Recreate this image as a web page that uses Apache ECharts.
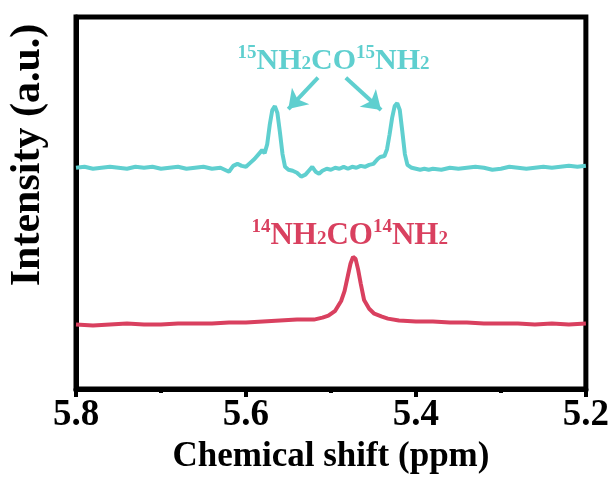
<!DOCTYPE html>
<html>
<head>
<meta charset="utf-8">
<script src="https://cdn.jsdelivr.net/npm/echarts@6/dist/echarts.min.js"></script>
<style>html,body{margin:0;padding:0;background:#fff}#c{width:612px;height:479px}</style>
</head>
<body>
<div id="c"></div>
<script>
// Chemical shift (ppm) and intensity (a.u., offset stacked)
const n15Shift = [5.800,5.790,5.780,5.770,5.760,5.750,5.740,5.730,5.720,5.710,5.700,5.690,5.680,5.670,5.660,5.650,5.640,5.630,5.625,5.620,5.615,5.610,5.605,5.600,5.595,5.590,5.585,5.581,5.578,5.575,5.572,5.569,5.566,5.563,5.560,5.557,5.554,5.550,5.545,5.540,5.535,5.530,5.525,5.522,5.518,5.514,5.510,5.505,5.500,5.495,5.490,5.485,5.480,5.475,5.470,5.465,5.460,5.455,5.450,5.445,5.442,5.440,5.437,5.434,5.431,5.428,5.425,5.422,5.419,5.416,5.413,5.410,5.405,5.400,5.395,5.390,5.385,5.380,5.370,5.360,5.350,5.340,5.330,5.320,5.310,5.300,5.290,5.280,5.270,5.260,5.250,5.240,5.230,5.220,5.210,5.200];
const n15Intensity = [226,227,225,226,227,226,225,227,226,227,225,226,227,225,226,227,225,226,224,222,228,230,228,227,231,235,240,244,241,250,270,285,289,282,262,240,227,224,223,221,217,219,224,227,222,220,223,225,224,226,225,227,225,227,226,228,227,229,230,235,237,235,238,245,260,277,289,292,285,263,240,229,226,225,224,225,224,225,224,226,225,226,227,226,224,225,227,226,225,226,227,226,227,228,227,228];

const n14Shift = [5.800,5.780,5.760,5.740,5.720,5.700,5.680,5.660,5.640,5.620,5.600,5.580,5.560,5.540,5.520,5.510,5.503,5.495,5.488,5.484,5.480,5.477,5.474,5.471,5.468,5.465,5.461,5.455,5.449,5.440,5.433,5.420,5.400,5.380,5.360,5.340,5.320,5.300,5.280,5.260,5.240,5.220,5.200];
const n14Intensity = [66,65,66,67,66,66,67,67,67,68,68,69,70,71,71,73,75,80,90,100,116,128,135,133,122,108,91,82,77,74,72,70,69,69,68,68,67,67,67,66,67,66,67];

const xTicks = [5.8, 5.6, 5.4, 5.2];
const labelN15 = {pos: [5.497, 338], sup: '15'};
const labelN14 = {pos: [5.478, 159], sup: '14'};
const arrowsN15 = [[[5.5152, 318], [5.5502, 286]], [[5.4825, 318], [5.4410, 285]]];

const cyan = '#5FCFCF';
const red = '#D9405F';
const FONT = '"Liberation Serif", "Times New Roman", serif';

function zip(a, b) { return a.map((v, i) => [v, b[i]]); }
function formula(s) {
  return `{sup|${s}}{main|NH}{sub|2}{main|CO}{sup|${s}}{main|NH}{sub|2}`;
}
function rich(color, size) {
  return {
    main: {fontFamily: FONT, fontWeight: 'bold', fontSize: size, lineHeight: size, color, verticalAlign: 'top', padding: [3,0,0,0]},
    sup: {fontFamily: FONT, fontWeight: 'bold', fontSize: 19, lineHeight: 19, color, verticalAlign: 'top'},
    sub: {fontFamily: FONT, fontWeight: 'bold', fontSize: 19, lineHeight: 19, color, verticalAlign: 'bottom', padding: [19,0,0,0]}
  };
}

const chart = echarts.init(document.getElementById('c'), null, {renderer: 'canvas'});
chart.setOption({
  animation: false,
  grid: {left: 76, right: 22, top: 17, bottom: 82, show: true, borderColor: '#000', borderWidth: 5, backgroundColor: 'transparent'},
  xAxis: {
    type: 'value', min: 5.2, max: 5.8, interval: 0.2, inverse: true,
    name: 'Chemical shift (ppm)', nameLocation: 'middle', nameGap: 25,
    nameTextStyle: {fontFamily: FONT, fontWeight: 'bold', fontSize: 35, color: '#000'},
    axisLine: {show: true, lineStyle: {color: '#000', width: 5}},
    axisTick: {show: true, inside: false, length: 8, lineStyle: {color: '#000', width: 4}},
    minorTick: {show: true, splitNumber: 2, length: 4, lineStyle: {color: '#000', width: 4}},
    splitLine: {show: false},
    axisLabel: {fontFamily: FONT, fontWeight: 'bold', fontSize: 37, color: '#000', margin: 8,
      formatter: v => { const t = xTicks.find(k => Math.abs(k - v) < 1e-6); return t !== undefined ? t.toFixed(1) : ''; }}
  },
  yAxis: {
    type: 'value', min: 0, max: 380,
    axisLine: {show: true, lineStyle: {color: '#000', width: 5}},
    axisTick: {show: false}, axisLabel: {show: false}, splitLine: {show: false}
  },
  graphic: [{
    type: 'text', x: 28, y: 155, rotation: Math.PI / 2,
    style: {text: 'Intensity (a.u.)', fontFamily: FONT, fontWeight: 'bold', fontSize: 42, fill: '#000', align: 'center', verticalAlign: 'middle'}
  }],
  series: [
    {
      type: 'line', data: zip(n15Shift, n15Intensity), showSymbol: false, smooth: false,
      lineStyle: {color: cyan, width: 4}, itemStyle: {color: cyan},
      markPoint: {symbolSize: 0, data: [{coord: labelN15.pos, label: {show: true, position: 'inside', formatter: formula(labelN15.sup), rich: rich(cyan, 30)}}]},
      markLine: {
        silent: true, symbol: ['none', 'arrow'], symbolSize: 18,
        lineStyle: {color: cyan, width: 4, type: 'solid'}, label: {show: false},
        data: arrowsN15.map(a => [{coord: a[0]}, {coord: a[1]}])
      }
    },
    {
      type: 'line', data: zip(n14Shift, n14Intensity), showSymbol: false, smooth: false,
      lineStyle: {color: red, width: 4}, itemStyle: {color: red},
      markPoint: {symbolSize: 0, data: [{coord: labelN14.pos, label: {show: true, position: 'inside', formatter: formula(labelN14.sup), rich: rich(red, 31)}}]}
    }
  ]
});
</script>
</body>
</html>
